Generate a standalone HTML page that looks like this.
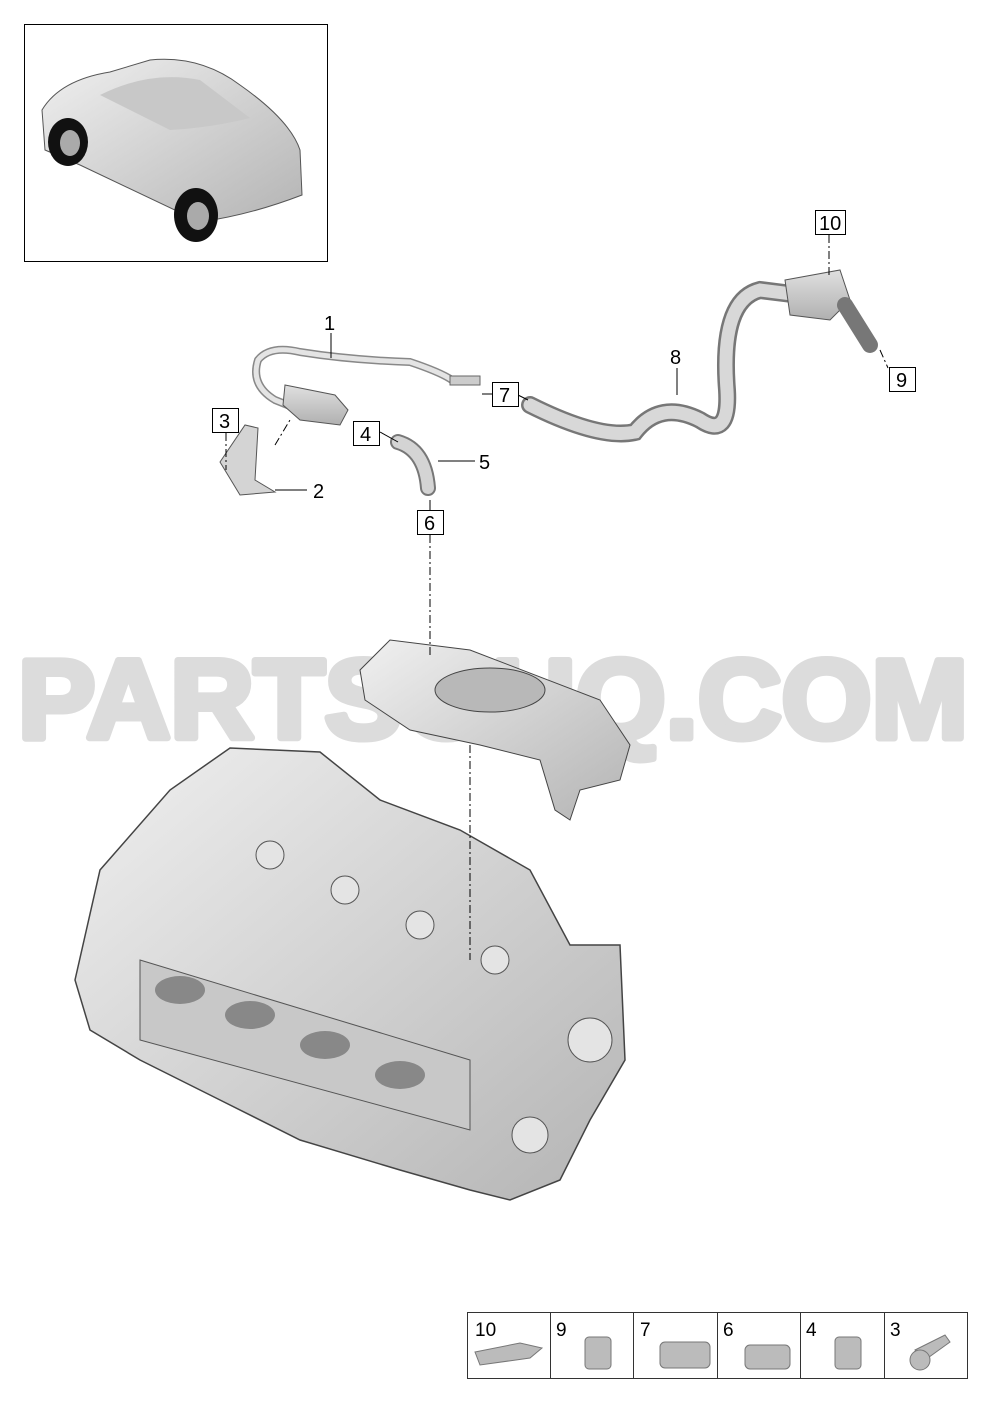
<!DOCTYPE html>
<html><head><meta charset="utf-8"><style>
html,body{margin:0;padding:0;background:#fff;}
svg{display:block}
text{font-family:"Liberation Sans",sans-serif;}
</style></head><body>
<svg width="992" height="1403" viewBox="0 0 992 1403" xmlns="http://www.w3.org/2000/svg">
<defs>
<linearGradient id="g1" x1="0" y1="0" x2="1" y2="1"><stop offset="0" stop-color="#f0f0f0"/><stop offset="1" stop-color="#b4b4b4"/></linearGradient>
<linearGradient id="g2" x1="0" y1="0" x2="0" y2="1"><stop offset="0" stop-color="#e0e0e0"/><stop offset="1" stop-color="#b0b0b0"/></linearGradient>
</defs>
<!-- car box -->
<rect x="24.5" y="24.5" width="303" height="237" fill="#fff" stroke="#000"/>
<path d="M42,110 Q60,80 110,72 L150,60 Q200,55 240,85 Q290,120 300,150 L302,195 Q250,215 200,222 L80,165 L45,150 Z" fill="url(#g1)" stroke="#555"/>
<path d="M100,95 Q150,70 200,80 L250,118 Q210,128 170,130 Z" fill="#c8c8c8"/>
<ellipse cx="68" cy="142" rx="20" ry="24" fill="#111"/><ellipse cx="70" cy="143" rx="10" ry="13" fill="#aaa"/>
<ellipse cx="196" cy="215" rx="22" ry="27" fill="#111"/><ellipse cx="198" cy="216" rx="11" ry="14" fill="#aaa"/>
<!-- watermark -->
<text x="493" y="738" text-anchor="middle" font-size="112" font-weight="bold" fill="#dcdcdc" stroke="#dcdcdc" stroke-width="7" stroke-linejoin="round" textLength="950" lengthAdjust="spacingAndGlyphs">PARTSOUQ.COM</text>
<!-- hose 1 -->
<path d="M452,380 Q440,372 410,362 Q350,360 300,352 Q270,345 258,360 Q250,385 275,400 L300,410" fill="none" stroke="#888" stroke-width="8"/>
<path d="M452,380 Q440,372 410,362 Q350,360 300,352 Q270,345 258,360 Q250,385 275,400 L300,410" fill="none" stroke="#e4e4e4" stroke-width="5"/>
<rect x="450" y="376" width="30" height="9" fill="#ccc" stroke="#666"/>
<path d="M285,385 L335,395 L348,410 L340,425 L300,420 L283,405 Z" fill="url(#g2)" stroke="#555"/>
<path d="M220,462 L245,425 L258,428 L255,480 L275,492 L240,495 Z" fill="#d4d4d4" stroke="#555"/>
<!-- hose 5 -->
<path d="M398,442 Q425,450 428,488" fill="none" stroke="#777" stroke-width="16" stroke-linecap="round"/>
<path d="M398,442 Q425,450 428,488" fill="none" stroke="#d4d4d4" stroke-width="12" stroke-linecap="round"/>
<!-- hose 8 -->
<path d="M530,405 Q600,440 635,432 Q660,400 700,420 Q730,440 727,390 Q720,300 760,290 L800,295" fill="none" stroke="#777" stroke-width="18" stroke-linecap="round"/>
<path d="M530,405 Q600,440 635,432 Q660,400 700,420 Q730,440 727,390 Q720,300 760,290 L800,295" fill="none" stroke="#d8d8d8" stroke-width="13" stroke-linecap="round"/>
<path d="M785,280 L840,270 L850,300 L830,320 L790,315 Z" fill="url(#g2)" stroke="#555"/>
<path d="M845,305 L870,345" stroke="#777" stroke-width="16" stroke-linecap="round"/>
<!-- cover -->
<path d="M360,670 L390,640 L470,650 L600,700 L630,745 L620,780 L580,790 L570,820 L555,810 L540,760 L480,745 L410,730 L365,700 Z" fill="url(#g1)" stroke="#444"/>
<ellipse cx="490" cy="690" rx="55" ry="22" fill="#b8b8b8" stroke="#444"/>
<!-- engine -->
<path d="M75,980 L100,870 L170,790 L230,748 L320,752 L380,800 L460,830 L530,870 L570,945 L620,945 L625,1060 L590,1120 L560,1180 L510,1200 L470,1190 L400,1170 L300,1140 L220,1100 L140,1060 L90,1030 Z" fill="url(#g1)" stroke="#444" stroke-width="1.5"/>
<path d="M140,960 L470,1060 L470,1130 L140,1040 Z" fill="#c8c8c8" stroke="#555"/>
<g fill="#888"><ellipse cx="180" cy="990" rx="25" ry="14"/><ellipse cx="250" cy="1015" rx="25" ry="14"/><ellipse cx="325" cy="1045" rx="25" ry="14"/><ellipse cx="400" cy="1075" rx="25" ry="14"/></g>
<g fill="#e4e4e4" stroke="#555"><circle cx="270" cy="855" r="14"/><circle cx="345" cy="890" r="14"/><circle cx="420" cy="925" r="14"/><circle cx="495" cy="960" r="14"/><circle cx="590" cy="1040" r="22"/><circle cx="530" cy="1135" r="18"/></g>
<!-- dash-dot lines -->
<g stroke="#000" stroke-width="1" stroke-dasharray="8,3,2,3" fill="none">
<line x1="430" y1="535" x2="430" y2="655"/>
<line x1="470" y1="745" x2="470" y2="960"/>
<line x1="226" y1="433" x2="226" y2="470"/>
<line x1="829" y1="235" x2="829" y2="275"/>
<line x1="880" y1="350" x2="888" y2="368"/>
<line x1="275" y1="445" x2="290" y2="420"/>
</g>
<g stroke="#000" stroke-width="1" fill="none">
<line x1="331" y1="333" x2="331" y2="358"/>
<line x1="275" y1="490" x2="307" y2="490"/>
<line x1="438" y1="461" x2="475" y2="461"/>
<line x1="677" y1="368" x2="677" y2="395"/>
<line x1="380" y1="432" x2="398" y2="442"/>
<line x1="518" y1="395" x2="528" y2="400"/>
<line x1="482" y1="394" x2="492" y2="394"/>
<line x1="430" y1="500" x2="430" y2="510"/>
</g>
<!-- labels -->
<g font-size="20" fill="#000">
<text x="324" y="330">1</text><text x="313" y="498">2</text><text x="479" y="469">5</text><text x="670" y="364">8</text>
</g>
<g fill="#fff" stroke="#000">
<rect x="212.5" y="408.5" width="26" height="24"/><rect x="353.5" y="421.5" width="26" height="24"/>
<rect x="492.5" y="382.5" width="26" height="24"/><rect x="417.5" y="510.5" width="26" height="24"/>
<rect x="889.5" y="367.5" width="26" height="24"/><rect x="815.5" y="210.5" width="30" height="24"/>
</g>
<g font-size="20" fill="#000">
<text x="219" y="428">3</text><text x="360" y="441">4</text><text x="499" y="402">7</text><text x="424" y="530">6</text><text x="896" y="387">9</text><text x="819" y="230">10</text>
</g>
<!-- bottom table -->
<rect x="467.5" y="1312.5" width="500" height="66" fill="#fff" stroke="#333"/>
<g stroke="#333"><line x1="550.5" y1="1312" x2="550.5" y2="1379"/><line x1="633.5" y1="1312" x2="633.5" y2="1379"/><line x1="717.5" y1="1312" x2="717.5" y2="1379"/><line x1="800.5" y1="1312" x2="800.5" y2="1379"/><line x1="884.5" y1="1312" x2="884.5" y2="1379"/></g>
<g font-size="19" fill="#000">
<text x="475" y="1336">10</text><text x="556" y="1336">9</text><text x="640" y="1336">7</text><text x="723" y="1336">6</text><text x="806" y="1336">4</text><text x="890" y="1336">3</text>
</g>
<g fill="#bbb" stroke="#777">
<path d="M475,1352 L520,1343 L542,1348 L530,1358 L480,1365 Z"/>
<rect x="585" y="1337" width="26" height="32" rx="4"/>
<rect x="660" y="1342" width="50" height="26" rx="5"/>
<rect x="745" y="1345" width="45" height="24" rx="5"/>
<rect x="835" y="1337" width="26" height="32" rx="4"/>
<path d="M915,1350 L945,1335 L950,1342 L925,1360 Z"/><circle cx="920" cy="1360" r="10"/>
</g>
</svg>
</body></html>
